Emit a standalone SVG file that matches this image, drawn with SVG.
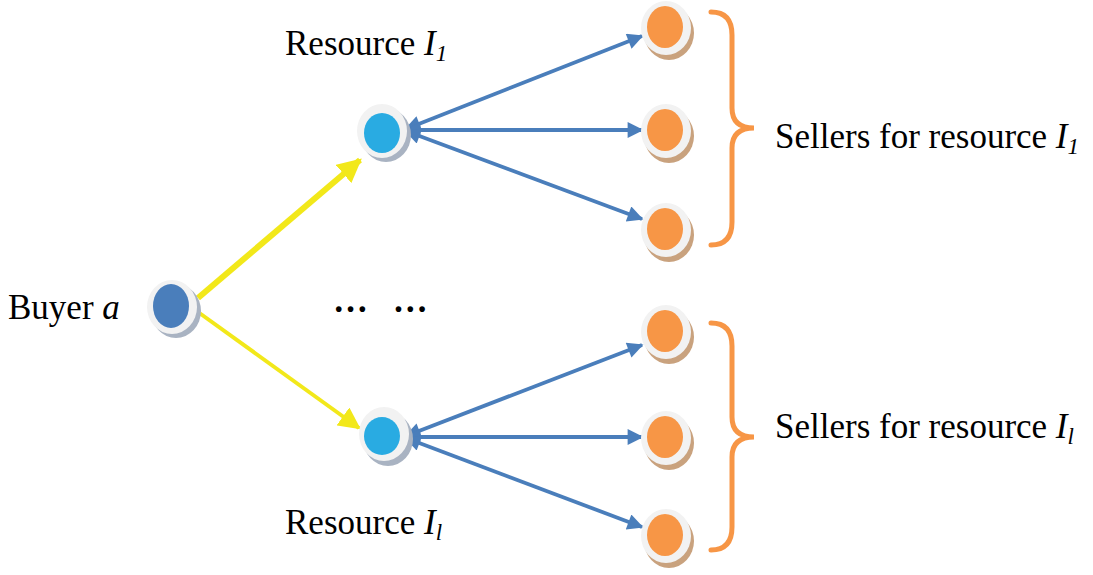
<svg xmlns="http://www.w3.org/2000/svg" width="1093" height="575" viewBox="0 0 1093 575">
<style>
  text { font-family: "Liberation Serif", "Times New Roman", serif; font-size: 35px; fill: #000; }
  .it { font-style: italic; }
  .sub { font-style: italic; font-size: 23px; }
  .shadow { fill: #a9b3c2; }
  .oshadow { fill: #c9a27e; }
  .ring { fill: #f2f2f2; }
  .buyer { fill: #4a7ebb; }
  .res { fill: #29abe2; }
  .sel { fill: #f79646; }
  .blue { stroke: #4a7ebb; stroke-width: 3.8; fill: none; }
  .brace { stroke: #f79646; stroke-width: 5; fill: none; stroke-linecap: round; }
</style>
<defs>
  <marker id="ab" viewBox="0 0 10 10" refX="9" refY="5" markerWidth="4.8" markerHeight="4.2" orient="auto-start-reverse" markerUnits="strokeWidth">
    <path d="M0,0 L10,5 L0,10 Z" fill="#4a7ebb"/>
  </marker>
  <marker id="ay" viewBox="0 0 10 10" refX="9" refY="5" markerWidth="4" markerHeight="4" orient="auto" markerUnits="strokeWidth">
    <path d="M0,0 L10,5 L0,10 Z" fill="#f2e81a"/>
  </marker>
  <marker id="ay2" viewBox="0 0 10 10" refX="9" refY="5" markerWidth="5.5" markerHeight="5.5" orient="auto" markerUnits="strokeWidth">
    <path d="M0,0 L10,5 L0,10 Z" fill="#f2e81a"/>
  </marker>
</defs>

<g id="connectors">
  <line x1="198" y1="298" x2="360" y2="160" stroke="#f2e81a" stroke-width="6" marker-end="url(#ay)"/>
  <line x1="198" y1="312" x2="359" y2="428" stroke="#f2e81a" stroke-width="4" marker-end="url(#ay2)"/>
  <line class="blue" x1="406" y1="129" x2="642" y2="36" marker-start="url(#ab)" marker-end="url(#ab)"/>
  <line class="blue" x1="406" y1="130" x2="642" y2="130" marker-start="url(#ab)" marker-end="url(#ab)"/>
  <line class="blue" x1="406" y1="131" x2="642" y2="219" marker-start="url(#ab)" marker-end="url(#ab)"/>
  <line class="blue" x1="406" y1="436" x2="642" y2="345" marker-start="url(#ab)" marker-end="url(#ab)"/>
  <line class="blue" x1="406" y1="437" x2="642" y2="437" marker-start="url(#ab)" marker-end="url(#ab)"/>
  <line class="blue" x1="406" y1="438" x2="642" y2="527" marker-start="url(#ab)" marker-end="url(#ab)"/>
</g>

<g id="buyer">
  <ellipse class="shadow" cx="176" cy="311" rx="25" ry="27"/>
  <ellipse class="ring" cx="172" cy="307" rx="25" ry="27"/>
  <ellipse class="buyer" cx="171" cy="306" rx="18" ry="22"/>
</g>
<g id="resource1">
  <ellipse class="shadow" cx="386" cy="135" rx="25" ry="27"/>
  <ellipse class="ring" cx="382" cy="131" rx="25" ry="27"/>
  <ellipse class="res" cx="382" cy="133" rx="18" ry="20"/>
</g>
<g id="resource2">
  <ellipse class="shadow" cx="388" cy="439" rx="25" ry="27"/>
  <ellipse class="ring" cx="384" cy="434" rx="25" ry="27"/>
  <ellipse class="res" cx="382" cy="436" rx="18" ry="19"/>
</g>

<g id="seller1"><ellipse class="oshadow" cx="669" cy="33" rx="25" ry="27"/><ellipse class="ring" cx="666" cy="28" rx="25" ry="27"/><ellipse class="sel" cx="665" cy="27" rx="18" ry="21"/></g>
<g id="seller2"><ellipse class="oshadow" cx="669" cy="136" rx="25" ry="27"/><ellipse class="ring" cx="666" cy="131" rx="25" ry="27"/><ellipse class="sel" cx="665" cy="130" rx="18" ry="21"/></g>
<g id="seller3"><ellipse class="oshadow" cx="669" cy="235" rx="25" ry="27"/><ellipse class="ring" cx="666" cy="230" rx="25" ry="27"/><ellipse class="sel" cx="665" cy="229" rx="18" ry="21"/></g>
<g id="seller4"><ellipse class="oshadow" cx="669" cy="337" rx="25" ry="27"/><ellipse class="ring" cx="666" cy="332" rx="25" ry="27"/><ellipse class="sel" cx="665" cy="331" rx="18" ry="21"/></g>
<g id="seller5"><ellipse class="oshadow" cx="669" cy="443" rx="25" ry="27"/><ellipse class="ring" cx="666" cy="438" rx="25" ry="27"/><ellipse class="sel" cx="665" cy="437" rx="18" ry="21"/></g>
<g id="seller6"><ellipse class="oshadow" cx="669" cy="541" rx="25" ry="27"/><ellipse class="ring" cx="666" cy="536" rx="25" ry="27"/><ellipse class="sel" cx="665" cy="535" rx="18" ry="21"/></g>

<g id="brace1">
  <path class="brace" d="M711,12 Q732,12 732,35 L732,108 Q732,128 754,128 Q732,128 732,148 L732,222 Q732,245 711,245"/>
</g>
<g id="brace2">
  <path class="brace" d="M711,323 Q732,323 732,346 L732,417 Q732,437 754,437 Q732,437 732,457 L732,527 Q732,550 711,550"/>
</g>

<g id="labels">
  <text x="285" y="55">Resource <tspan class="it">I</tspan><tspan class="sub" dy="6">1</tspan></text>
  <text x="285" y="534">Resource <tspan class="it">I</tspan><tspan class="sub" dy="6">l</tspan></text>
  <text x="775" y="148">Sellers for resource <tspan class="it">I</tspan><tspan class="sub" dy="6">1</tspan></text>
  <text x="775" y="438">Sellers for resource <tspan class="it">I</tspan><tspan class="sub" dy="6">l</tspan></text>
  <text x="8" y="319">Buyer <tspan class="it">a</tspan></text>
  <text x="333" y="312" font-size="50" font-weight="bold" word-spacing="16">… …</text>
</g>
</svg>
